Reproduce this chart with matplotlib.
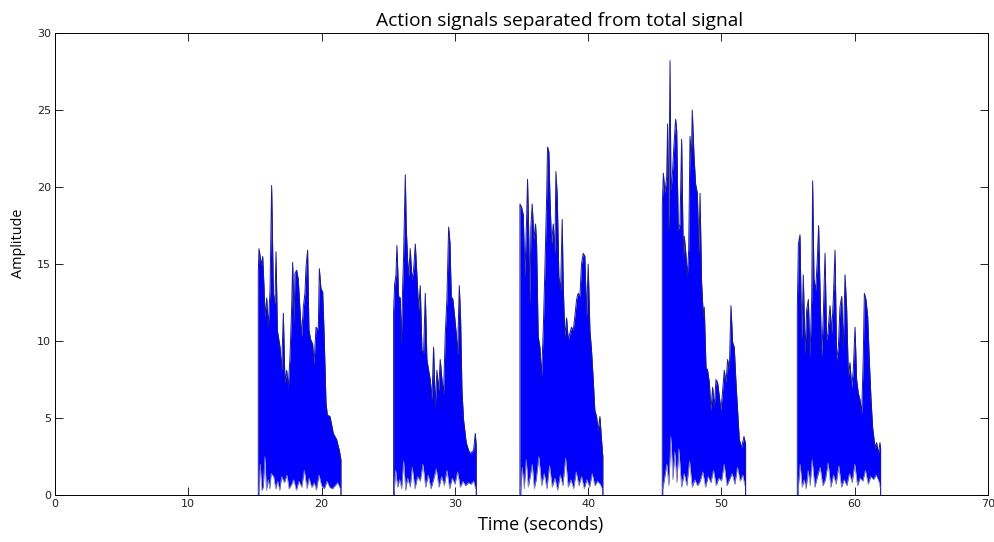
import matplotlib
matplotlib.use("Agg")
import matplotlib.pyplot as plt

# peaks and valleys of each burst (seconds, amplitude)
b1_time = [15.25, 15.25, 15.30, 15.50, 15.58, 15.68, 15.75, 15.88, 16.00, 16.13, 16.25, 16.30, 16.38, 16.50,
           16.58, 16.68, 16.88, 17.00, 17.13, 17.25, 17.38, 17.50, 17.63, 17.75, 17.83, 17.93, 18.00, 18.13,
           18.25, 18.38, 18.50, 18.63, 18.75, 18.83, 18.95, 19.05, 19.18, 19.33, 19.43, 19.58, 19.75, 19.83,
           19.95, 20.08, 20.18, 20.33, 20.43, 20.63, 20.88, 21.13, 21.33, 21.45, 21.45]
b1_amp = [0, 14.4, 16.0, 14.9, 15.5, 13.5, 11.6, 12.8, 10.9, 13.3, 20.1, 17.6, 13.1, 12.4,
          15.8, 10.7, 9.6, 8.1, 11.8, 7.3, 8.1, 7.0, 9.0, 12.1, 15.1, 11.1, 14.4, 14.6,
          14.0, 12.0, 10.3, 12.2, 13.1, 14.8, 15.9, 10.7, 10.1, 9.8, 8.5, 10.9, 10.7, 14.7,
          13.4, 13.2, 10.7, 6.0, 5.2, 5.1, 4.0, 3.6, 2.9, 2.3, 0]

b2_time = [25.40, 25.40, 25.48, 25.58, 25.65, 25.78, 25.90, 25.98, 26.08, 26.15, 26.28, 26.35, 26.45, 26.53,
           26.65, 26.78, 26.90, 27.03, 27.15, 27.28, 27.40, 27.53, 27.65, 27.78, 27.90, 28.03, 28.15, 28.28,
           28.40, 28.53, 28.65, 28.78, 28.90, 29.03, 29.15, 29.28, 29.40, 29.53, 29.63, 29.73, 29.85, 29.98,
           30.10, 30.20, 30.33, 30.43, 30.53, 30.65, 30.85, 31.03, 31.15, 31.40, 31.53, 31.60, 31.60]
b2_amp = [0, 11.9, 13.7, 14.3, 16.2, 12.9, 12.8, 9.9, 13.5, 15.5, 20.8, 17.4, 15.3, 14.2,
          16.0, 14.0, 14.6, 16.3, 14.3, 12.0, 13.6, 9.4, 9.2, 13.1, 8.8, 8.1, 7.5, 6.2,
          9.6, 5.7, 8.1, 6.8, 8.8, 7.5, 6.6, 10.5, 12.7, 17.4, 16.4, 12.9, 12.7, 11.6,
          10.5, 9.1, 13.6, 11.4, 6.8, 4.9, 3.4, 2.9, 2.7, 2.9, 4.0, 3.2, 0]

b3_time = [34.88, 34.88, 35.00, 35.13, 35.25, 35.38, 35.45, 35.53, 35.63, 35.70, 35.80, 35.93, 36.05, 36.13,
           36.25, 36.38, 36.50, 36.63, 36.75, 36.88, 36.95, 37.05, 37.13, 37.25, 37.38, 37.50, 37.58, 37.68,
           37.80, 37.93, 38.05, 38.13, 38.25, 38.38, 38.50, 38.63, 38.75, 38.88, 39.00, 39.13, 39.25, 39.38,
           39.50, 39.63, 39.75, 39.88, 40.00, 40.13, 40.25, 40.38, 40.50, 40.63, 40.75, 40.88, 41.00, 41.10, 41.10]
b3_amp = [0, 18.9, 18.7, 18.2, 14.2, 17.9, 20.5, 17.4, 12.4, 17.4, 18.9, 16.6, 17.6, 16.3,
          10.3, 9.6, 7.7, 10.7, 14.6, 19.2, 22.6, 22.3, 19.4, 16.3, 17.6, 15.7, 21.0, 19.4,
          14.2, 13.3, 17.9, 13.5, 10.3, 11.5, 10.1, 10.5, 10.9, 10.7, 11.6, 12.7, 13.1, 12.9,
          15.0, 15.7, 15.5, 11.6, 15.0, 10.7, 9.4, 7.5, 5.5, 5.1, 4.2, 5.1, 3.6, 2.5, 0]

b4_time = [45.56, 45.56, 45.64, 45.76, 45.89, 45.96, 46.04, 46.14, 46.21, 46.31, 46.44, 46.56, 46.64, 46.76,
           46.89, 47.01, 47.14, 47.21, 47.31, 47.44, 47.54, 47.64, 47.74, 47.81, 47.94, 48.06, 48.19, 48.31,
           48.39, 48.51, 48.64, 48.71, 48.84, 48.96, 49.09, 49.21, 49.34, 49.46, 49.59, 49.71, 49.84, 49.96,
           50.09, 50.21, 50.34, 50.46, 50.59, 50.71, 50.84, 50.96, 51.09, 51.21, 51.34, 51.51, 51.69, 51.81, 51.81]
b4_amp = [0, 18.8, 20.9, 19.6, 20.7, 24.1, 17.2, 28.2, 19.8, 20.7, 22.8, 24.4, 23.7, 17.2,
          17.6, 23.1, 15.3, 16.8, 15.9, 14.2, 15.9, 23.3, 21.8, 25.0, 22.0, 20.2, 19.6, 15.7,
          19.6, 13.8, 11.6, 12.2, 8.3, 8.1, 7.3, 5.5, 7.0, 5.7, 7.5, 7.3, 6.4, 5.5,
          6.8, 8.1, 7.3, 8.8, 8.1, 12.3, 9.9, 9.6, 7.3, 5.5, 3.6, 3.1, 3.8, 3.3, 0]

b5_time = [55.69, 55.69, 55.77, 55.89, 56.02, 56.14, 56.27, 56.39, 56.52, 56.64, 56.77, 56.84, 56.94, 57.07,
           57.19, 57.29, 57.39, 57.52, 57.64, 57.77, 57.89, 57.99, 58.14, 58.27, 58.39, 58.52, 58.64, 58.77,
           58.89, 59.02, 59.14, 59.27, 59.39, 59.52, 59.64, 59.77, 59.89, 60.02, 60.14, 60.27, 60.39, 60.52,
           60.64, 60.72, 60.84, 60.97, 61.09, 61.22, 61.34, 61.52, 61.64, 61.77, 61.89, 61.94, 61.94]
b5_amp = [0, 12.0, 16.3, 16.9, 10.1, 14.3, 9.2, 12.0, 12.7, 9.0, 12.7, 20.4, 14.0, 13.3,
          15.3, 17.5, 13.5, 9.0, 11.6, 15.7, 10.1, 10.5, 12.3, 10.5, 12.7, 15.9, 8.8, 9.6,
          12.2, 12.9, 9.6, 14.3, 12.2, 7.7, 8.6, 7.0, 8.1, 10.9, 7.5, 6.6, 6.2, 5.3,
          9.0, 13.1, 12.7, 11.6, 8.8, 6.2, 4.4, 3.1, 3.4, 2.7, 3.4, 3.0, 0]

# white gaps where the signal stays above zero near the baseline
b1_floor_t = [15.30, 15.40, 15.50, 15.62, 15.75, 15.85, 16.00, 16.10, 16.22, 16.40, 16.55, 16.70, 16.85,
              17.00, 17.20, 17.40, 17.55, 17.75, 17.90, 18.10, 18.30, 18.50, 18.70, 18.90, 19.05, 19.25,
              19.45, 19.60, 19.80, 20.00, 20.20, 20.40, 20.60, 20.80, 21.00, 21.20, 21.40]
b1_floor_h = [0.2, 2.0, 0.3, 0.5, 2.5, 0.3, 1.0, 0.4, 1.4, 1.2, 0.4, 0.9, 0.3,
              1.2, 0.8, 1.3, 0.4, 0.7, 1.0, 0.3, 0.9, 0.5, 1.6, 0.4, 1.1, 0.5,
              0.8, 0.3, 1.3, 0.6, 0.4, 0.9, 0.5, 0.4, 0.6, 0.8, 0.4]
b2_floor_t = [25.45, 25.55, 25.70, 25.85, 26.00, 26.15, 26.30, 26.45, 26.65, 26.80, 27.00, 27.20, 27.40,
              27.60, 27.80, 28.00, 28.20, 28.40, 28.60, 28.80, 29.00, 29.20, 29.40, 29.60, 29.80, 30.00,
              30.20, 30.40, 30.60, 30.80, 31.00, 31.20, 31.40, 31.55]
b2_floor_h = [0.3, 1.6, 0.5, 1.0, 0.4, 2.2, 0.3, 1.1, 0.5, 1.8, 0.4, 1.2, 0.9,
              2.0, 0.5, 1.3, 0.4, 1.0, 1.7, 0.5, 1.2, 0.6, 1.6, 0.4, 1.1, 0.7,
              1.5, 0.5, 0.9, 0.6, 0.8, 0.7, 0.9, 0.4]
b3_floor_t = [34.95, 35.05, 35.20, 35.35, 35.50, 35.65, 35.80, 35.95, 36.10, 36.30, 36.50, 36.70, 36.90,
              37.10, 37.30, 37.50, 37.70, 37.90, 38.10, 38.30, 38.50, 38.70, 38.90, 39.10, 39.30, 39.50,
              39.70, 39.90, 40.10, 40.30, 40.50, 40.70, 40.90, 41.05]
b3_floor_h = [0.3, 1.8, 0.4, 2.3, 0.5, 1.2, 2.0, 0.4, 1.0, 2.5, 0.6, 1.4, 0.4,
              1.9, 0.5, 1.1, 0.3, 1.3, 0.6, 2.4, 0.5, 1.0, 0.4, 1.5, 0.6, 1.2,
              0.4, 1.0, 0.5, 1.4, 0.6, 0.9, 0.7, 0.4]
b4_floor_t = [45.60, 45.75, 45.90, 46.05, 46.20, 46.35, 46.50, 46.65, 46.80, 47.00, 47.20, 47.40, 47.60,
              47.80, 48.00, 48.20, 48.40, 48.60, 48.80, 49.00, 49.20, 49.40, 49.60, 49.80, 50.00, 50.20,
              50.40, 50.60, 50.80, 51.00, 51.20, 51.40, 51.60, 51.75]
b4_floor_h = [0.4, 1.2, 2.0, 0.6, 3.8, 1.0, 2.8, 0.8, 3.0, 0.5, 1.4, 0.6, 2.2,
              0.5, 1.0, 0.6, 0.9, 1.5, 0.5, 1.2, 0.8, 1.6, 0.6, 1.1, 0.9, 2.0,
              0.6, 1.0, 1.4, 0.7, 1.8, 0.9, 1.3, 0.6]
b5_floor_t = [55.75, 55.90, 56.05, 56.20, 56.35, 56.50, 56.65, 56.80, 57.00, 57.20, 57.40, 57.60, 57.80,
              58.00, 58.20, 58.40, 58.60, 58.80, 59.00, 59.20, 59.40, 59.60, 59.80, 60.00, 60.20, 60.40,
              60.60, 60.80, 61.00, 61.20, 61.40, 61.60, 61.80, 61.90]
b5_floor_h = [0.3, 2.0, 0.5, 1.0, 0.4, 1.6, 0.6, 2.3, 0.5, 1.2, 1.8, 0.6, 1.0,
              2.1, 0.5, 1.3, 0.7, 1.9, 0.5, 1.0, 0.6, 1.4, 0.8, 2.0, 0.6, 1.1,
              0.9, 1.6, 0.7, 1.2, 1.0, 1.3, 0.9, 0.5]

bursts = [(b1_time, b1_amp), (b2_time, b2_amp), (b3_time, b3_amp), (b4_time, b4_amp), (b5_time, b5_amp)]
floors = [(b1_floor_t, b1_floor_h), (b2_floor_t, b2_floor_h), (b3_floor_t, b3_floor_h),
          (b4_floor_t, b4_floor_h), (b5_floor_t, b5_floor_h)]

fig = plt.figure(figsize=(9.95, 5.42), dpi=100)
ax = fig.add_axes([0.0553, 0.0867, 0.9377, 0.8523])

for t, a in bursts:
    ax.fill_between(t, 0, a, color="#0000ff", lw=0)
    ax.plot(t, a, color="#1c1c8c", lw=0.7)

for t, h in floors:
    ax.fill_between(t, 0, h, color="white", lw=0)
    ax.plot(t, h, color="#8c8ca8", lw=0.5)

ax.set_xlim(0, 70)
ax.set_ylim(0, 30)
ax.set_xticks(range(0, 71, 10))
ax.set_yticks(range(0, 31, 5))
ax.tick_params(direction="in", length=6, width=0.6, top=True, right=True,
               labelsize=8, labelcolor="#222222", pad=3)
for s in ax.spines.values():
    s.set_linewidth(0.7)

ax.set_title("Action signals separated from total signal", fontsize=13.8, family="Open Sans",
             x=0.541, y=1.016, pad=0)
ax.set_xlabel("Time (seconds)", fontsize=13, family="Open Sans")
ax.xaxis.set_label_coords(0.521, -0.045)
ax.set_ylabel("Amplitude", fontsize=10.4, family="Open Sans")
ax.yaxis.set_label_coords(-0.031, 0.545)

fig.savefig("out.png", dpi=100)
